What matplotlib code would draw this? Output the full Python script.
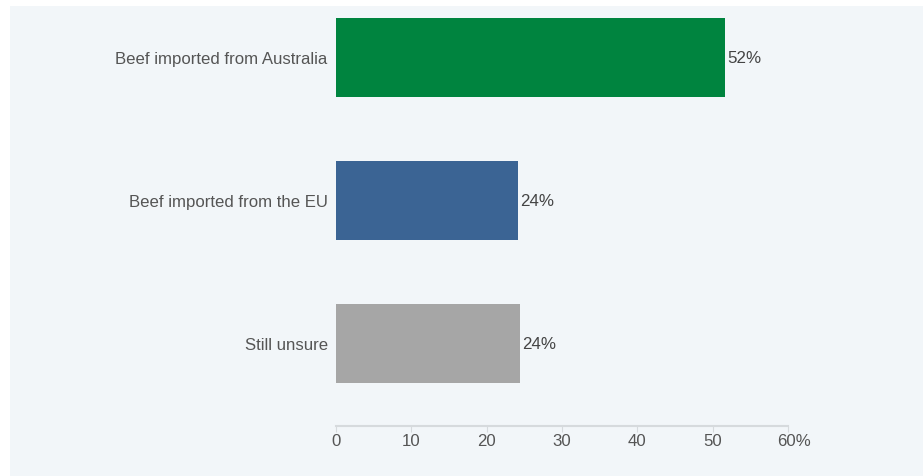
import matplotlib as mpl
mpl.use('Agg')
import matplotlib.pyplot as plt
from matplotlib.patches import Rectangle
from matplotlib.transforms import ScaledTranslation

categories = ['Beef imported from Australia', 'Beef imported from the EU', 'Still unsure']
values = [51.6, 24.2, 24.4]
labels = ['52%', '24%', '24%']
colors = ['#00843f', '#3b6494', '#a6a6a6']
xticks = [0, 10, 20, 30, 40, 50, 60]
xticklabels = ['0', '10', '20', '30', '40', '50', '60%']

plt.rcParams['font.family'] = ['Liberation Sans', 'DejaVu Sans']
bg = '#f2f6f9'

W, H = 923, 477
fig = plt.figure(figsize=(W / 100, H / 100), dpi=100)
fig.patch.set_facecolor('white')
fig.patches.append(Rectangle((10 / W, 0), 1 - 10 / W, 1 - 7 / H, transform=fig.transFigure,
                             facecolor=bg, edgecolor='none', zorder=-10))

ax = fig.add_axes([336 / W, 1 - 427 / H, (788 - 336) / W, 427 / H])
ax.set_facecolor('none')
ypos = range(len(categories))
ax.barh(ypos, values, height=0.55, color=colors)
for y, v, t in zip(ypos, values, labels):
    ax.text(v + 0.3, y, t, va='center', ha='left', fontsize=12.2, color='#444444')

ax.set_xlim(0, 60)
ax.set_ylim(2.577, -0.409)
ax.set_yticks(list(ypos))
ax.set_yticklabels(categories, fontsize=12.1, color='#555555')
ax.set_xticks(xticks)
ax.set_xticklabels(xticklabels, fontsize=12.1, color='#555555')
ax.tick_params(axis='y', length=0, pad=6)
ax.tick_params(axis='x', length=4, color='#d6dadd', pad=1)
for s in ['top', 'right', 'left']:
    ax.spines[s].set_visible(False)
ax.spines['bottom'].set_color('#d6dadd')
ax.spines['bottom'].set_linewidth(1.5)

# "60%": keep the number centred on its tick, let the % sign hang right
last = ax.get_xticklabels()[-1]
last.set_transform(last.get_transform() + ScaledTranslation(6.5 / 100, 0, fig.dpi_scale_trans))

fig.savefig('out.png', dpi=100, facecolor=fig.get_facecolor())
